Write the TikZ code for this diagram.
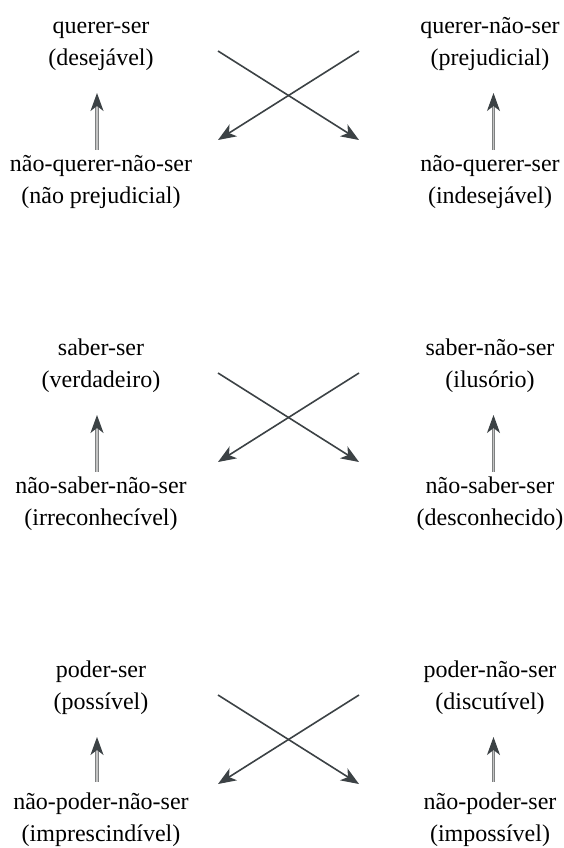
\documentclass[tikz,border=0pt]{standalone}
\usepackage{fontspec}
\setmainfont{Liberation Serif}
\usetikzlibrary{positioning, arrows.meta}
\definecolor{arrowgray}{HTML}{3C4245}
\definecolor{shaftgray}{HTML}{7E8081}
\definecolor{shaftlight}{HTML}{C4C4C4}
\newcommand{\twolines}[2]{\strut #1\\\strut #2}

\begin{document}
\begin{tikzpicture}[
		x=1pt, y=-1pt,
		term/.style={inner sep=0pt, align=center, anchor=north, font=\fontsize{24}{32}\selectfont},
		cross/.style={draw=arrowgray, line width=1.6pt, -{Stealth[length=18pt, width=14pt, inset=5pt]}},
		implies/.style={draw=shaftgray, double=shaftlight, double distance=1.4pt, line width=1.2pt,
			shorten <=-1pt, shorten >=18pt,
			-{Stealth[length=18pt, width=13pt, inset=5pt, color=arrowgray, fill=arrowgray]}}
		]
		\useasboundingbox (0,0) rectangle (563,848);
		
		% Bloco 1: querer
		\node[term] (qs) at (101,10.6) {\twolines{querer-ser}{(desejável)}};
		\node[term] (qns) at (490,10.6) {\twolines{querer-não-ser}{(prejudicial)}};
		\node[term] (nqns) at (101,148.6) {\twolines{não-querer-não-ser}{(não prejudicial)}};
		\node[term] (nqs) at (490,148.6) {\twolines{não-querer-ser}{(indesejável)}};
		\coordinate (q1) at (218,51);
		\coordinate (q2) at (359,51);
		\coordinate (q3) at (218,140);
		\coordinate (q4) at (359,140);
		\draw[cross] (q1) -- (q4);
		\draw[cross] (q2) -- (q3);
		\draw[implies] ([xshift=-4pt]nqns.north) -- ([xshift=-4pt]qs.south);
		\draw[implies] ([xshift=3.5pt]nqs.north) -- ([xshift=3.5pt]qns.south);
		
		% Bloco 2: saber
		\node[term] (ss) at (101,332.6) {\twolines{saber-ser}{(verdadeiro)}};
		\node[term] (sns) at (490,332.6) {\twolines{saber-não-ser}{(ilusório)}};
		\node[term] (nsns) at (101,470.6) {\twolines{não-saber-não-ser}{(irreconhecível)}};
		\node[term] (nss) at (490,470.6) {\twolines{não-saber-ser}{(desconhecido)}};
		\coordinate (s1) at (218,373);
		\coordinate (s2) at (359,373);
		\coordinate (s3) at (218,462);
		\coordinate (s4) at (359,462);
		\draw[cross] (s1) -- (s4);
		\draw[cross] (s2) -- (s3);
		\draw[implies] ([xshift=-4pt]nsns.north) -- ([xshift=-4pt]ss.south);
		\draw[implies] ([xshift=3.5pt]nss.north) -- ([xshift=3.5pt]sns.south);
		
		% Bloco 3: poder
		\node[term] (ps) at (101,654.6) {\twolines{poder-ser}{(possível)}};
		\node[term] (pns) at (490,654.6) {\twolines{poder-não-ser}{(discutível)}};
		\node[term] (npns) at (101,786.6) {\twolines{não-poder-não-ser}{(imprescindível)}};
		\node[term] (nps) at (490,786.6) {\twolines{não-poder-ser}{(impossível)}};
		\coordinate (p1) at (218,695);
		\coordinate (p2) at (359,695);
		\coordinate (p3) at (218,784);
		\coordinate (p4) at (359,784);
		\draw[cross] (p1) -- (p4);
		\draw[cross] (p2) -- (p3);
		\draw[implies, shorten <=5pt] ([xshift=-4pt]npns.north) -- ([xshift=-4pt]ps.south);
		\draw[implies, shorten <=5pt] ([xshift=3.5pt]nps.north) -- ([xshift=3.5pt]pns.south);
		
	\end{tikzpicture}
\end{document}
